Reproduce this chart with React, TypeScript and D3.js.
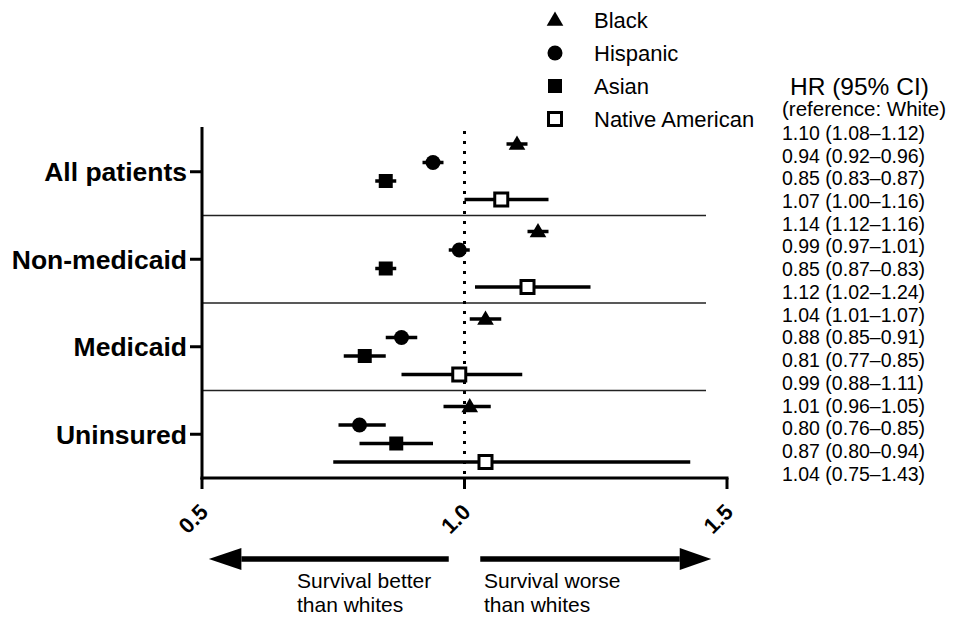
import React from "react";
import * as d3 from "d3";

const groups = ["All patients", "Non-medicaid", "Medicaid", "Uninsured"];
const races = ["Black", "Hispanic", "Asian", "Native American"];
const xTicks = [0.5, 1.0, 1.5];

// per group, order: Black, Hispanic, Asian, Native American
const hrAll = [1.10, 0.94, 0.85, 1.07];
const loAll = [1.08, 0.92, 0.83, 1.00];
const hiAll = [1.12, 0.96, 0.87, 1.16];

const hrNonMed = [1.14, 0.99, 0.85, 1.12];
const loNonMed = [1.12, 0.97, 0.87, 1.02];
const hiNonMed = [1.16, 1.01, 0.83, 1.24];

const hrMed = [1.04, 0.88, 0.81, 0.99];
const loMed = [1.01, 0.85, 0.77, 0.88];
const hiMed = [1.07, 0.91, 0.85, 1.11];

const hrUnins = [1.01, 0.80, 0.87, 1.04];
const loUnins = [0.96, 0.76, 0.80, 0.75];
const hiUnins = [1.05, 0.85, 0.94, 1.43];

const hrByGroup = [hrAll, hrNonMed, hrMed, hrUnins];
const loByGroup = [loAll, loNonMed, loMed, loUnins];
const hiByGroup = [hiAll, hiNonMed, hiMed, hiUnins];

const FONT = "'Liberation Sans', Arial, Helvetica, sans-serif";

function Marker({ race, x, y }: { race: number; x: number; y: number }) {
  if (race === 0) {
    const p = d3.symbol().type(d3.symbolTriangle).size(120)();
    return <path d={p || ""} transform={`translate(${x},${y + 1})`} fill="#000" />;
  }
  if (race === 1) return <circle cx={x} cy={y} r={7.5} fill="#000" />;
  if (race === 2) return <rect x={x - 7} y={y - 7} width={14} height={14} fill="#000" />;
  return <rect x={x - 6.5} y={y - 6.5} width={13} height={13} fill="#fff" stroke="#000" strokeWidth={3} />;
}

export default function App() {
  const W = 956, H = 620;
  const x = d3.scaleLinear().domain([0.5, 1.5]).range([202, 727]);
  const yBand = d3.scaleBand<string>().domain(groups).range([128, 478]).padding(0);
  const rowStep = 18.5;
  const rowY = (g: number, r: number) => (yBand(groups[g]) as number) + yBand.bandwidth() / 2 + (r - 1.5) * rowStep;

  const axisY = 478;
  const sepRight = x(1.46);

  const tableRows: string[] = [];
  groups.forEach((_, g) => {
    races.forEach((__, r) => {
      tableRows.push(
        `${hrByGroup[g][r].toFixed(2)} (${loByGroup[g][r].toFixed(2)}–${hiByGroup[g][r].toFixed(2)})`
      );
    });
  });
  const tableY = d3.scaleLinear().domain([0, 15]).range([133, 474]);

  const legendY = d3.scalePoint<string>().domain(races).range([20, 119]);

  const arrowY = 559;

  return (
    <svg width={W} height={H} style={{ position: "absolute", left: 0, top: 0, background: "#fff" }} fontFamily={FONT}>
      <rect x={0} y={0} width={W} height={H} fill="#fff" />

      {/* separators */}
      {groups.slice(1).map((g) => (
        <line key={g} x1={202} x2={sepRight} y1={yBand(g) as number} y2={yBand(g) as number} stroke="#222" strokeWidth={1.5} />
      ))}

      {/* reference dotted line */}
      <line x1={x(1)} x2={x(1)} y1={131} y2={axisY} stroke="#000" strokeWidth={3} strokeDasharray="3 7" />

      {/* axes */}
      <line x1={202} x2={202} y1={127} y2={axisY + 1.5} stroke="#000" strokeWidth={3} />
      <line x1={200.5} x2={x(1.5) + 1.5} y1={axisY} y2={axisY} stroke="#000" strokeWidth={3} />
      {xTicks.map((t) => (
        <g key={t}>
          <line x1={x(t)} x2={x(t)} y1={axisY} y2={axisY + 11} stroke="#000" strokeWidth={3} />
          <text
            transform={`translate(${x(t) + 2},${508}) rotate(-45)`}
            textAnchor="end"
            dy="0.35em"
            fontSize={22}
            fontWeight="bold"
          >
            {t.toFixed(1)}
          </text>
        </g>
      ))}
      {groups.map((g) => {
        const cy = (yBand(g) as number) + yBand.bandwidth() / 2;
        return (
          <g key={g}>
            <line x1={190} x2={202} y1={cy} y2={cy} stroke="#000" strokeWidth={3} />
            <text x={187} y={cy} dy="0.35em" textAnchor="end" fontSize={26.5} fontWeight="bold">
              {g}
            </text>
          </g>
        );
      })}

      {/* error bars and markers */}
      {groups.map((g, gi) =>
        races.map((r, ri) => {
          const cy = rowY(gi, ri);
          const lo = Math.min(loByGroup[gi][ri], hiByGroup[gi][ri]);
          const hi = Math.max(loByGroup[gi][ri], hiByGroup[gi][ri]);
          return (
            <g key={g + r}>
              <line x1={x(lo)} x2={x(hi)} y1={cy} y2={cy} stroke="#000" strokeWidth={3.5} />
              <Marker race={ri} x={x(hrByGroup[gi][ri])} y={cy} />
            </g>
          );
        })
      )}

      {/* legend */}
      {races.map((r, ri) => (
        <g key={r}>
          <Marker race={ri} x={555} y={legendY(r) as number} />
          <text x={594} y={legendY(r) as number} dy="0.35em" fontSize={22}>
            {r}
          </text>
        </g>
      ))}

      {/* HR table */}
      <text x={790} y={86} dy="0.35em" fontSize={24.5}>HR (95% CI)</text>
      <text x={782} y={109} dy="0.35em" fontSize={20.5}>(reference: White)</text>
      {tableRows.map((s, i) => (
        <text key={i} x={782} y={tableY(i)} dy="0.35em" fontSize={19.5}>
          {s}
        </text>
      ))}

      {/* direction arrows */}
      <line x1={x(0.575)} x2={x(0.97)} y1={arrowY} y2={arrowY} stroke="#000" strokeWidth={5.5} />
      <path
        d={`M${x(0.513)},${arrowY} L${x(0.575)},${arrowY - 11} L${x(0.575)},${arrowY + 11} Z`}
        fill="#000"
      />
      <line x1={x(1.03)} x2={x(1.41)} y1={arrowY} y2={arrowY} stroke="#000" strokeWidth={5.5} />
      <path
        d={`M${x(1.47)},${arrowY} L${x(1.41)},${arrowY - 11} L${x(1.41)},${arrowY + 11} Z`}
        fill="#000"
      />
      <text x={297} y={588} fontSize={21}>Survival better</text>
      <text x={297} y={612} fontSize={21}>than whites</text>
      <text x={484} y={588} fontSize={21}>Survival worse</text>
      <text x={484} y={612} fontSize={21}>than whites</text>
    </svg>
  );
}
